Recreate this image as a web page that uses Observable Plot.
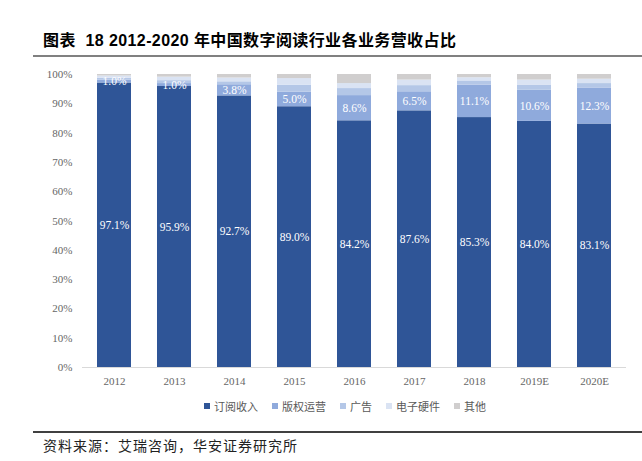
<!DOCTYPE html>
<html><head><meta charset="utf-8">
<script src="https://cdn.jsdelivr.net/npm/d3@7"></script>
<script src="https://cdn.jsdelivr.net/npm/@observablehq/plot@0.6"></script>
<style>
body{margin:0;width:642px;height:461px;position:relative;background:#fff;overflow:hidden}
#title{position:absolute;left:43px;top:31px;font-family:"Liberation Sans","Noto Sans CJK SC",sans-serif;font-weight:bold;font-size:16px;color:#000;white-space:pre;line-height:20px;letter-spacing:0.4px}
#tline{position:absolute;left:33px;top:55px;width:609px;height:2px;background:#808080}
#chart{position:absolute;left:0;top:60px}
#legend{position:absolute;left:204px;top:398px;display:flex;align-items:center;font-family:"Noto Sans CJK SC",sans-serif;font-size:11px;color:#595959;line-height:16px}
#legend .item{display:flex;align-items:center;margin-right:14px}
#legend .sw{width:6px;height:6px;margin-right:4px}
#bline{position:absolute;left:33px;top:431px;width:609px;height:1.5px;background:#404040}
#source{position:absolute;left:43px;top:436px;font-family:"Noto Sans CJK SC",sans-serif;font-size:14px;letter-spacing:1px;color:#222;white-space:nowrap;line-height:18px}
</style></head><body>
<div id="title">图表  18 2012-2020 年中国数字阅读行业各业务营收占比</div>
<div id="tline"></div>
<div id="chart"></div>
<div id="legend"></div>
<div id="bline"></div>
<div id="source">资料来源：艾瑞咨询，华安证券研究所</div>
<script>
const years = ["2012","2013","2014","2015","2016","2017","2018","2019E","2020E"];
const seriesNames = ["订阅收入","版权运营","广告","电子硬件","其他"];
const subscription = [97.1, 95.9, 92.7, 89.0, 84.2, 87.6, 85.3, 84.0, 83.1];
const copyright    = [1.0, 1.0, 3.8, 5.0, 8.6, 6.5, 11.1, 10.6, 12.3];
const advertising  = [0.6, 1.0, 1.0, 2.3, 2.4, 2.1, 1.4, 1.8, 1.5];
const hardware     = [0.8, 1.2, 1.3, 2.3, 1.7, 1.9, 1.1, 1.7, 1.5];
const other        = [0.5, 0.9, 1.2, 1.4, 3.1, 1.9, 1.1, 1.9, 1.6];
const colors = ["#2F5597","#8FAADC","#B4C7E7","#DAE3F3","#D0CECE"];

const seriesValues = [subscription, copyright, advertising, hardware, other];
const table = [];
years.forEach((y, i) => {
  seriesNames.forEach((s, j) => table.push({year: y, series: s, value: seriesValues[j][i]}));
});
const labels = [];
years.forEach((y, i) => {
  labels.push({year: y, mid: subscription[i] / 2, label: subscription[i].toFixed(1) + "%"});
  labels.push({year: y, mid: subscription[i] + copyright[i] / 2, label: copyright[i].toFixed(1) + "%"});
});

const serif = "'Liberation Serif','Times New Roman',serif";
const chart = Plot.plot({
  width: 642, height: 335,
  marginTop: 14, marginBottom: 28, marginLeft: 82, marginRight: 16,
  style: {fontFamily: serif, fontSize: "11px", color: "#666", background: "transparent"},
  x: {domain: years, paddingInner: 0.43, paddingOuter: 0.215, label: null, tickSize: 0, tickPadding: 10},
  y: {domain: [0, 100], ticks: d3.range(0, 101, 10), tickFormat: d => d + "%", label: null, tickSize: 0, tickPadding: 10},
  color: {domain: seriesNames, range: colors},
  marks: [
    Plot.ruleY([0], {stroke: "#d9d9d9", strokeWidth: 1}),
    Plot.barY(table, {x: "year", y: "value", fill: "series", order: seriesNames}),
    Plot.text(labels, {x: "year", y: "mid", text: "label", fill: "white", fontSize: 11.5, fontFamily: serif})
  ]
});
document.getElementById("chart").appendChild(chart);

const legend = document.getElementById("legend");
seriesNames.forEach((s, j) => {
  const it = document.createElement("div");
  it.className = "item";
  const sw = document.createElement("div");
  sw.className = "sw";
  sw.style.background = colors[j];
  const t = document.createElement("span");
  t.textContent = s;
  it.appendChild(sw); it.appendChild(t);
  legend.appendChild(it);
});
</script>
</body></html>
